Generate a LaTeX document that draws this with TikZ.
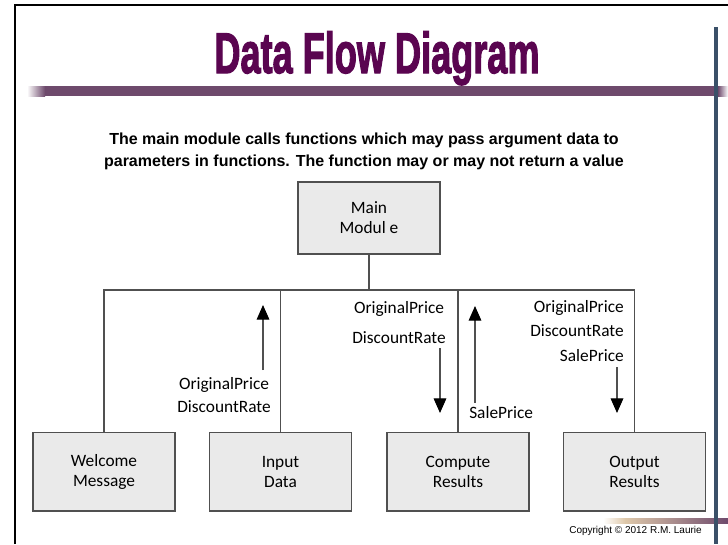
\documentclass[tikz,border=0pt]{standalone}
\usepackage{graphicx}
\usepackage{fontspec}
\setmainfont{Carlito}
\newfontfamily\arialfont{Liberation Sans}
\newfontfamily\headfont[FakeBold=2.5]{Liberation Sans Bold}
\usetikzlibrary{arrows.meta, positioning}

\definecolor{titlepurple}{RGB}{90,5,80}
\definecolor{barpurple}{RGB}{110,74,108}
\definecolor{bartan}{RGB}{222,200,170}
\definecolor{sideblue}{RGB}{58,80,104}
\definecolor{boxfill}{RGB}{234,234,234}
\definecolor{linegray}{RGB}{80,80,80}

\begin{document}
\begin{tikzpicture}[x = 0.75pt, y = -0.75pt,
    module/.style = {draw = linegray, fill = boxfill, line width = 1pt, minimum width = 106.5pt,
      minimum height = 59pt, align = center, inner sep = 0pt, font = \fontsize{13}{15}\selectfont},
    link/.style = {draw = linegray, line width = 0.8pt},
    flow/.style = {draw = linegray, line width = 0.9pt, -{Triangle[width = 9.5pt, length = 11pt, color = black]}},
    tag/.style = {inner sep = 0pt, font = \fontsize{13}{17.25}\selectfont}]
        \useasboundingbox (0,0) rectangle (728,544);
        \fill[white] (0,0) rectangle (728,544);
        \draw[line width = 1.5pt] (15,544) -- (15,5) -- (728,5);
        \shade[left color = white, right color = barpurple] (27,86) rectangle (45,96);
        \fill[barpurple] (45,86) rectangle (718,96);
        \shade[left color = barpurple, right color = white] (718,86) rectangle (728,96);
        \shade[left color = white, right color = bartan] (603,518) rectangle (625,523);
        \shade[left color = bartan, right color = barpurple] (625,518) rectangle (728,523);
        \draw[sideblue, line width = 2.5pt] (716,27) -- (716,544);

        \node[font = \headfont\fontsize{43}{48}\selectfont, text = titlepurple, anchor = base] (title) at (377,73) {\scalebox{0.63}[1]{Data Flow Diagram}};
        \node[font = \arialfont\bfseries\fontsize{12}{16.5}\selectfont, align = center] (intro) at (364,151)
          {The main module calls functions which may pass argument data to\\parameters in functions. The function may or may not return a value};
        \node[font = \arialfont\fontsize{7.5}{8}\selectfont, anchor = east, inner sep = 0pt] (copy) at (702,531) {Copyright \textcopyright{} 2012 R.M. Laurie};

        \node[module, minimum height = 54pt] (main) at (369,218) {Main\\Modul e};
        \node[module] (welcome) at (104,471.5) {Welcome\\Message};
        \node[module] (input) at (280.5,471.5) {Input\\Data};
        \node[module] (compute) at (458,471.5) {Compute\\Results};
        \node[module] (output) at (634.5,471.5) {Output\\Results};

        \coordinate (bus) at (369,290);
        \draw[link] (main.south) -- (bus);
        \draw[link] (welcome.north) |- (bus) -| (output.north);
        \draw[link] (input.north) -- (input.north |- bus);
        \draw[link] (compute.north) -- (compute.north |- bus);

        \coordinate (inTail) at (263,370);
        \coordinate (inHead) at (263,305);
        \draw[flow] (inTail) -- (inHead);
        \node[tag, align = center] (inArgs) at (224,395) {OriginalPrice\\DiscountRate};

        \coordinate (cpTail) at (440,348);
        \coordinate (cpHead) at (440,413);
        \draw[flow] (cpTail) -- (cpHead);
        \node[tag, align = center] (cpArgs) at (399,323) {OriginalPrice\\[5.25pt]DiscountRate};

        \coordinate (retTail) at (475,403);
        \coordinate (retHead) at (475,306);
        \draw[flow] (retTail) -- (retHead);
        \node[tag, anchor = west] (cpRet) at (469,413) {SalePrice};

        \coordinate (outTail) at (617,367);
        \coordinate (outHead) at (617,413);
        \draw[flow] (outTail) -- (outHead);
        \node[tag, align = right, anchor = east, font = \fontsize{13}{18.4}\selectfont] (outArgs) at (624,331) {OriginalPrice\\DiscountRate\\SalePrice};
\end{tikzpicture}
\end{document}
